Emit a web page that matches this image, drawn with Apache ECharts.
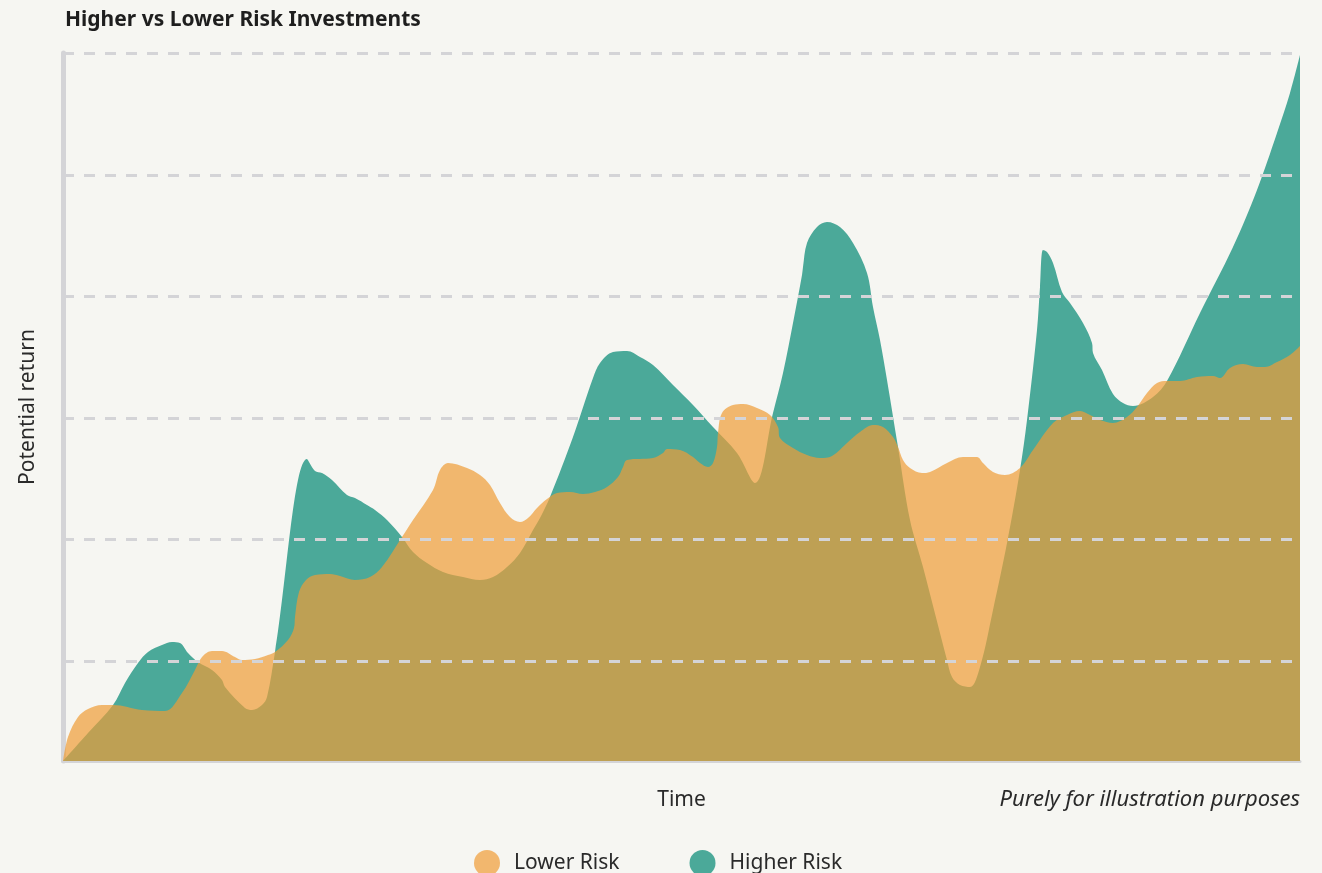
<!DOCTYPE html>
<html>
<head>
<meta charset="utf-8">
<title>Higher vs Lower Risk Investments</title>
<script src="https://cdn.jsdelivr.net/npm/echarts/dist/echarts.min.js"></script>
<style>
  html, body { margin: 0; padding: 0; background: #f6f6f2; }
  #main { width: 1322px; height: 873px; }
</style>
</head>
<body>
<div id="main"></div>
<script>
// [time, potential return] - illustrative shapes
var lowerRisk = [
  [0, 0], [5, 24], [15, 44], [25, 52], [39, 56], [50, 56], [79, 51], [102, 50],
  [119, 68], [132, 91], [139, 104], [149, 110], [159, 110], [172, 104], [179, 101],
  [192, 102], [205, 106], [212, 109], [225, 121], [231, 133], [232, 144], [236, 169],
  [243, 181], [252, 186], [267, 187], [277, 185], [292, 181], [307, 184], [319, 194],
  [339, 224], [350, 241], [370, 271], [377, 291], [385, 298], [404, 293], [417, 286],
  [427, 276], [437, 258], [447, 244], [457, 239], [465, 243], [474, 253], [484, 262],
  [494, 268], [507, 269], [520, 267], [532, 269], [544, 274], [555, 284], [560, 294],
  [564, 301], [590, 303], [600, 308], [604, 312], [617, 311], [630, 304], [637, 298],
  [645, 294], [650, 298], [654, 314], [655, 328], [659, 348], [670, 356], [680, 357],
  [694, 353], [707, 346], [715, 334], [717, 323], [730, 313], [744, 306], [757, 303],
  [769, 305], [784, 318], [797, 329], [810, 336], [820, 334], [830, 324], [835, 314],
  [840, 301], [847, 293], [859, 288], [867, 289], [884, 298], [900, 304], [914, 304],
  [920, 298], [930, 289], [942, 286], [957, 293], [970, 311], [990, 338], [1004, 346],
  [1017, 350], [1027, 346], [1037, 341], [1050, 338], [1064, 344], [1074, 354],
  [1084, 368], [1094, 378], [1104, 380], [1117, 380], [1134, 384], [1150, 385],
  [1157, 383], [1167, 393], [1180, 397], [1194, 394], [1202, 394], [1214, 399],
  [1227, 406], [1237, 415]
];

var higherRisk = [
  [0, 0], [25, 28], [50, 56], [62, 78], [75, 98], [85, 109], [99, 116], [109, 119],
  [117, 118], [125, 108], [135, 99], [149, 91], [159, 81], [162, 74], [182, 53],
  [189, 51], [199, 56], [204, 64], [212, 109], [244, 302], [252, 290], [259, 288],
  [269, 281], [284, 266], [292, 263], [304, 256], [312, 251], [324, 241], [339, 224],
  [350, 209], [364, 198], [380, 189], [400, 184], [417, 181], [430, 184], [444, 194],
  [457, 208], [470, 231], [477, 243], [487, 264], [510, 324], [530, 383], [537, 398],
  [550, 409], [564, 410], [577, 404], [590, 396], [610, 376], [630, 356], [650, 334],
  [674, 308], [692, 278], [710, 348], [720, 388], [730, 438], [739, 486], [740, 494],
  [744, 518], [754, 534], [764, 539], [777, 534], [790, 518], [804, 488], [810, 454],
  [817, 421], [824, 381], [835, 314], [847, 241], [860, 194], [884, 101], [889, 84],
  [897, 76], [907, 74], [917, 94], [930, 151], [944, 218], [957, 291], [964, 341],
  [974, 431], [977, 474], [980, 511], [984, 509], [990, 498], [999, 469], [1007, 458],
  [1020, 438], [1029, 418], [1030, 408], [1039, 391], [1050, 367], [1060, 358],
  [1070, 355], [1090, 364], [1104, 380], [1137, 448], [1170, 514], [1194, 571],
  [1214, 628], [1227, 668], [1237, 706]
];

var gridLevels = [100, 222, 343, 465, 586, 708];
var seriesNames = ['Lower Risk', 'Higher Risk'];

var font = '"Noto Sans", sans-serif';
var chart = echarts.init(document.getElementById('main'), null, { renderer: 'canvas' });

var option = {
  backgroundColor: '#f6f6f2',
  animation: false,
  title: {
    text: 'Higher vs Lower Risk Investments',
    left: 60,
    top: 5,
    textStyle: { fontFamily: font, fontSize: 21, fontWeight: 'bold', color: '#1e1e1e' }
  },
  legend: {
    data: [
      { name: seriesNames[0], itemStyle: { color: '#f2b76e', opacity: 1 } },
      { name: seriesNames[1], itemStyle: { color: '#4ba999', opacity: 1 } }
    ],
    icon: 'circle',
    left: 469,
    top: 845,
    itemWidth: 26,
    itemHeight: 26,
    itemGap: 70,
    textStyle: { fontFamily: font, fontSize: 21, color: '#2a2a2a', padding: [0, 0, 0, 9] }
  },
  grid: { left: 63, right: 22, top: 53, bottom: 112 },
  xAxis: {
    type: 'value',
    min: 0,
    max: 1237,
    name: 'Time',
    nameLocation: 'middle',
    nameGap: 29,
    nameTextStyle: { fontFamily: font, fontSize: 21, color: '#2a2a2a' },
    axisLine: { show: true, lineStyle: { color: '#d4d4d7', width: 3 } },
    axisTick: { show: false },
    axisLabel: { show: false },
    splitLine: { show: false }
  },
  yAxis: {
    type: 'value',
    min: 0,
    max: 708,
    name: 'Potential return',
    nameLocation: 'middle',
    nameGap: 24,
    nameRotate: 90,
    nameTextStyle: { fontFamily: font, fontSize: 21, color: '#2a2a2a' },
    axisLine: { show: true, lineStyle: { color: '#d4d4d7', width: 5 } },
    axisTick: { show: false },
    axisLabel: { show: false },
    splitLine: { show: false }
  },
  graphic: [{
    type: 'text',
    right: 22,
    top: 789,
    style: {
      text: 'Purely for illustration purposes',
      font: 'italic 22px ' + font,
      fill: '#2a2a2a'
    }
  }],
  series: [{
    name: seriesNames[1],
    type: 'line',
    smooth: 0.35,
    showSymbol: false,
    lineStyle: { width: 0 },
    itemStyle: { color: '#4ba999' },
    areaStyle: { color: '#4ba999', opacity: 1 },
    data: higherRisk
  }, {
    name: seriesNames[0],
    type: 'line',
    smooth: 0.35,
    showSymbol: false,
    lineStyle: { width: 0 },
    itemStyle: { color: '#f2b76e' },
    areaStyle: { color: '#f09c36', opacity: 0.7 },
    data: lowerRisk,
    markLine: {
      silent: true,
      symbol: ['none', 'none'],
      label: { show: false },
      lineStyle: { color: '#d4d4d7', width: 3, type: [11, 10], opacity: 1 },
      data: gridLevels.map(function (v) { return { yAxis: v }; })
    }
  }]
};
chart.setOption(option);
</script>
</body>
</html>
